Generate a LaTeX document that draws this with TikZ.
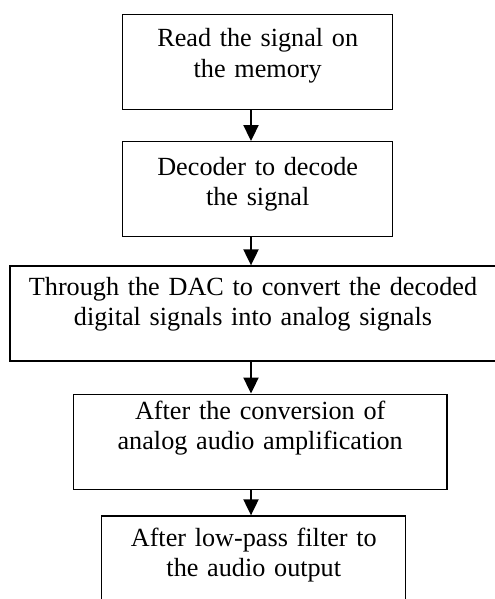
\documentclass[tikz,border=0pt]{standalone}
\usepackage{fontspec}
\setmainfont{Liberation Serif}
\usepackage{tikz}
\usetikzlibrary{shapes,arrows.meta,positioning,calc}

\begin{document}
\begin{tikzpicture}[x=0.5pt, y=-0.5pt,
    stage/.style 2 args={draw, line width=0.65pt, align=center, inner sep=0pt,
        font=\fontsize{13.1pt}{15.1pt}\selectfont, text height=#1, text depth=#2},
    flow/.style={line width=1pt, -{Triangle[length=8pt, width=7.5pt]}}]
    \useasboundingbox (0,0) rectangle (494,599);

    % Processing stages (top to bottom)
    \node[stage={16.35pt}{31.15pt}, text width=135pt] (read) at (257.7,61.7)
        {Read the signal on\\the memory};
    \node[stage={16.65pt}{30.85pt}, text width=135pt] (decode) at (257.7,189.2)
        {Decoder to decode\\the signal};
    \node[stage={14.85pt}{32.65pt}, text width=243pt] (dac) at (253,313.5)
        {Through the DAC to convert the decoded\\digital signals into analog signals};
    \node[stage={12.65pt}{34.85pt}, text width=186.7pt] (amp) at (260.2,441.7)
        {After the conversion of\\analog audio amplification};
    \node[stage={15pt}{32.5pt}, text width=152pt] (filter) at (253.8,563.5)
        {After low-pass filter to\\the audio output};

    % Arrows, all on one vertical line
    \coordinate (axis) at (251,0);
    \draw[flow] (read.south -| axis) -- (decode.north -| axis);
    \draw[flow] (decode.south -| axis) -- (dac.north -| axis);
    \draw[flow] (dac.south -| axis) -- (amp.north -| axis);
    \draw[flow] (amp.south -| axis) -- (filter.north -| axis);
\end{tikzpicture}
\end{document}
